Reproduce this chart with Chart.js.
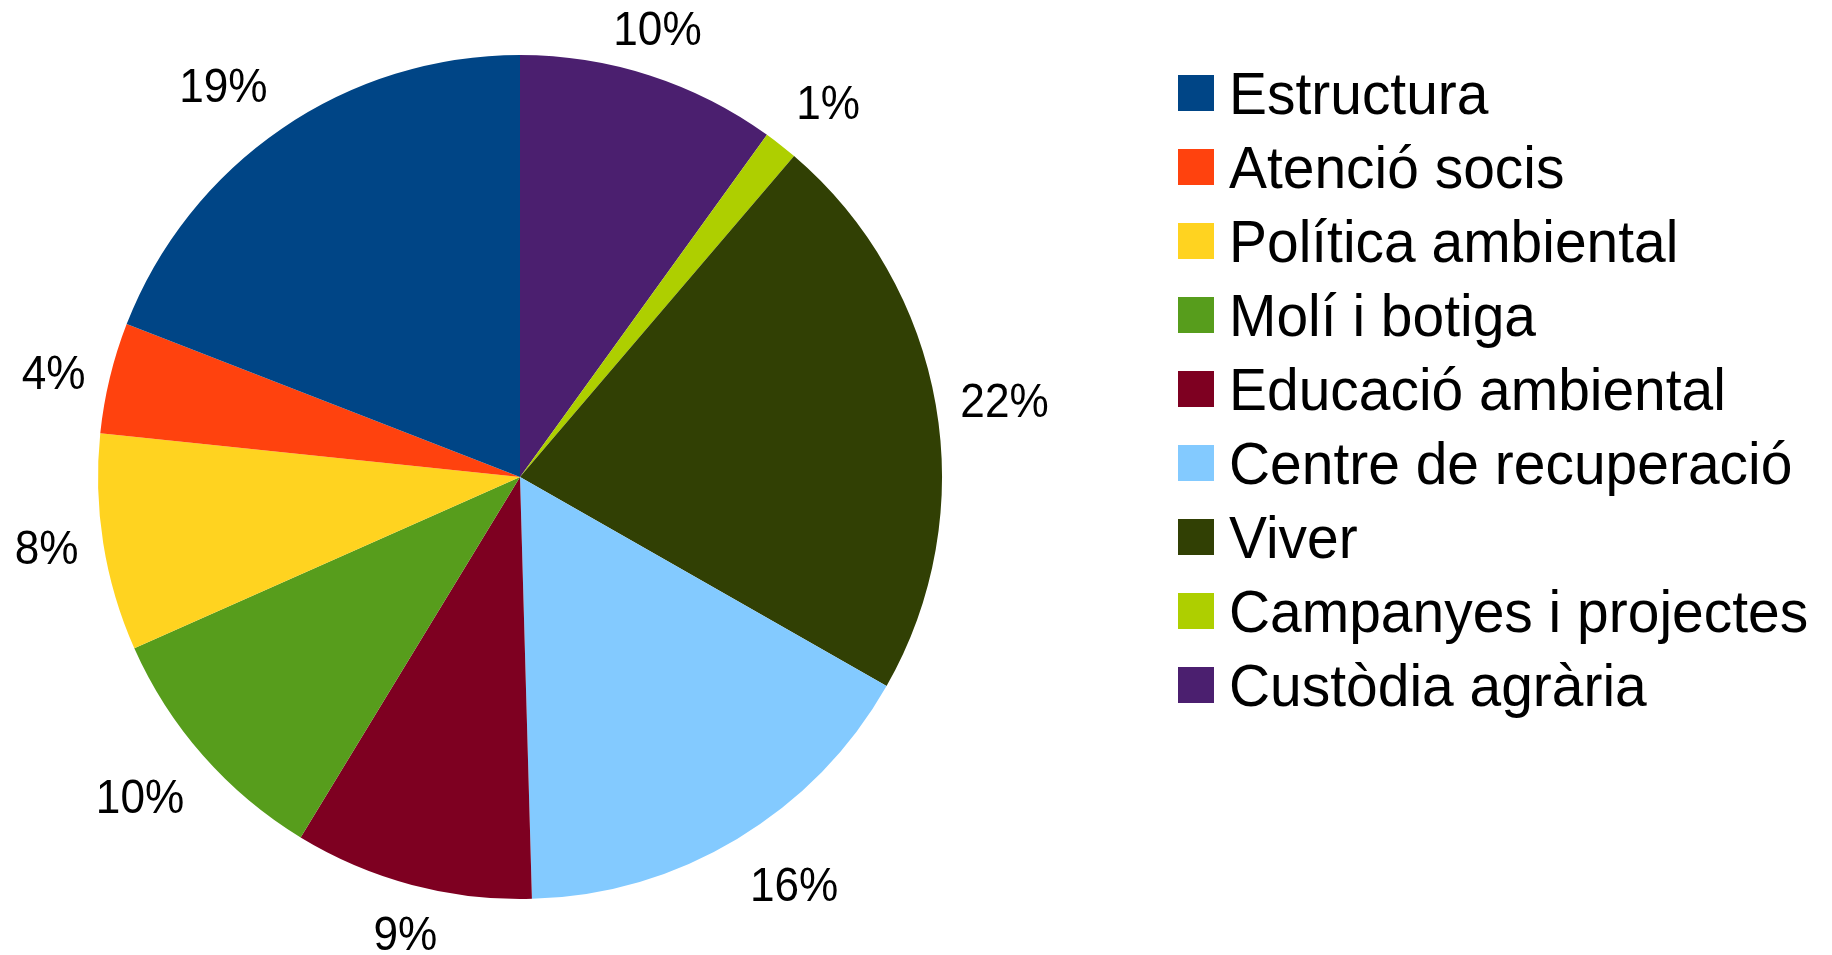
<!DOCTYPE html>
<html>
<head>
<meta charset="utf-8">
<script src="https://cdn.jsdelivr.net/npm/chart.js@4/dist/chart.umd.min.js"></script>
<style>
  html, body { margin: 0; padding: 0; background: #fff; }
  #wrap { position: relative; width: 1832px; height: 955px; }
  #legend { position: absolute; left: 1178px; top: 0; font-family: "Liberation Sans", Arial, sans-serif; font-size: 59px; color: #000; }
  .row { position: absolute; left: 0; height: 59px; line-height: 59px; white-space: nowrap; }
  .box { position: absolute; left: 0; top: 9.5px; width: 36px; height: 36px; }
  .lbl { position: absolute; left: 51px; top: 0; transform: scaleX(0.965); transform-origin: 0 0; }
</style>
</head>
<body>
<div id="wrap">
  <canvas id="pieChart" width="1832" height="955"></canvas>
  <div id="legend"></div>
</div>
<script>
// categories in legend order (counter-clockwise from 12 o'clock in the picture)
const categories = ['Estructura', 'Atenció socis', 'Política ambiental', 'Molí i botiga',
  'Educació ambiental', 'Centre de recuperació', 'Viver', 'Campanyes i projectes', 'Custòdia agrària'];
const shares = [19.1, 4.25, 8.3, 9.65, 9.15, 16.3, 22.0, 1.3, 9.95];
const colors = ['#004586', '#ff420e', '#ffd320', '#579d1c', '#7e0021', '#83caff', '#314004', '#aecf00', '#4b1f6f'];

// chart.js draws clockwise, the original goes the other way
const order = categories.map((c, i) => i).reverse();
const total = shares.reduce((a, b) => a + b, 0);

// percentage labels outside the pie, text box hooked on the side facing the slice
const outsideLabels = {
  id: 'outsideLabels',
  afterDatasetsDraw(chart) {
    const ctx = chart.ctx;
    const meta = chart.getDatasetMeta(0);
    const values = chart.data.datasets[0].data;
    const size = 48, sx = 0.92;
    ctx.save();
    ctx.font = size + 'px "Liberation Sans", Arial, sans-serif';
    ctx.fillStyle = '#000';
    ctx.textAlign = 'center';
    ctx.textBaseline = 'alphabetic';
    meta.data.forEach((arc, i) => {
      const p = arc.getProps(['x', 'y', 'startAngle', 'endAngle', 'outerRadius'], true);
      const mid = (p.startAngle + p.endAngle) / 2;
      const d = p.outerRadius + 25;
      const ax = p.x + Math.cos(mid) * d, ay = p.y + Math.sin(mid) * d;
      const k = Math.round(mid / (Math.PI / 4));
      const ux = Math.round(Math.cos(k * Math.PI / 4)), uy = Math.round(Math.sin(k * Math.PI / 4));
      const txt = Math.round(values[i] / total * 100) + '%';
      const w = ctx.measureText(txt).width * sx;
      const h = 47;
      const tx = ax + ux * w / 2, ty = ay + uy * h / 2;
      ctx.save();
      ctx.translate(tx, ty + size * 0.716 / 2);
      ctx.scale(sx, 1);
      ctx.fillText(txt, 0, 0);
      ctx.restore();
    });
    ctx.restore();
  }
};

new Chart(document.getElementById('pieChart').getContext('2d'), {
  type: 'pie',
  data: {
    labels: order.map(i => categories[i]),
    datasets: [{
      data: order.map(i => shares[i]),
      backgroundColor: order.map(i => colors[i]),
      borderWidth: 0,
      hoverOffset: 0
    }]
  },
  options: {
    responsive: false,
    animation: false,
    devicePixelRatio: 1,
    layout: { padding: { left: 98, top: 55, right: 890, bottom: 56 } },
    plugins: {
      legend: { display: false },
      tooltip: { enabled: false }
    }
  },
  plugins: [outsideLabels]
});

// legend
const legend = document.getElementById('legend');
categories.forEach((name, i) => {
  const row = document.createElement('div');
  row.className = 'row';
  row.style.top = (92.5 + 74 * i - 27.5) + 'px';
  const box = document.createElement('div');
  box.className = 'box';
  box.style.background = colors[i];
  const lbl = document.createElement('span');
  lbl.className = 'lbl';
  lbl.textContent = name;
  row.appendChild(box);
  row.appendChild(lbl);
  legend.appendChild(row);
});
</script>
</body>
</html>
